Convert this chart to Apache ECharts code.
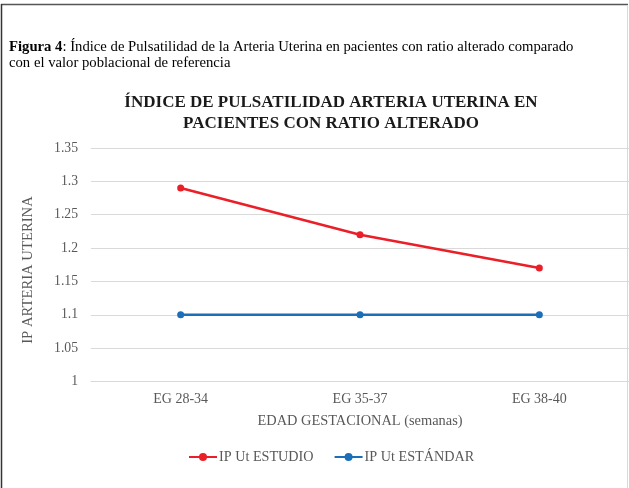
<!DOCTYPE html>
<html>
<head>
<meta charset="utf-8">
<script src="https://cdn.jsdelivr.net/npm/echarts@6/dist/echarts.min.js"></script>
<style>
html,body{margin:0;padding:0;background:#fff;}
#c{width:629px;height:488px;}
</style>
</head>
<body>
<div id="c"></div>
<script>
const categories = ['EG 28-34', 'EG 35-37', 'EG 38-40'];
const estudio = [1.29, 1.22, 1.17];
const estandar = [1.1, 1.1, 1.1];
const seriesNames = ['IP Ut ESTUDIO', 'IP Ut ESTÁNDAR'];
const yMin = 1, yMax = 1.35, yStep = 0.05;

const FONT = '"Liberation Serif", "Times New Roman", serif';
const GREY = '#595959';
const chart = echarts.init(document.getElementById('c'), null, {renderer: 'canvas'});
chart.setOption({
  backgroundColor: '#fff',
  animation: false,
  textStyle: {fontFamily: FONT},
  graphic: [
    {type: 'line', shape: {x1: 1, y1: 4.5, x2: 628, y2: 4.5}, style: {stroke: '#555', lineWidth: 1.5}},
    {type: 'line', shape: {x1: 1.5, y1: 4, x2: 1.5, y2: 488}, style: {stroke: '#333', lineWidth: 1.5}},
    {type: 'line', shape: {x1: 627.5, y1: 5, x2: 627.5, y2: 488}, style: {stroke: '#d9d9d9', lineWidth: 1}},
    {type: 'text', x: 9, y: 47.5, style: {
      text: '{b|Figura 4}: Índice de Pulsatilidad de la Arteria Uterina en pacientes con ratio alterado comparado',
      font: '14.7px ' + FONT, fill: '#000', verticalAlign: 'middle',
      rich: {b: {fontWeight: 'bold', fontSize: 14.7, fontFamily: FONT, fill: '#000'}}
    }},
    {type: 'text', x: 9, y: 63, style: {
      text: 'con el valor poblacional de referencia',
      font: '14.7px ' + FONT, fill: '#000', verticalAlign: 'middle'
    }},
    {type: 'text', x: 331, y: 103, style: {
      text: 'ÍNDICE DE PULSATILIDAD ARTERIA UTERINA EN',
      font: 'bold 17px ' + FONT, fill: '#1a1a1a', align: 'center', verticalAlign: 'middle'
    }},
    {type: 'text', x: 331, y: 123.5, style: {
      text: 'PACIENTES CON RATIO ALTERADO',
      font: 'bold 17px ' + FONT, fill: '#1a1a1a', align: 'center', verticalAlign: 'middle'
    }},
    {type: 'text', x: 28, y: 270, rotation: Math.PI / 2, style: {
      text: 'IP ARTERIA UTERINA',
      font: '14.7px ' + FONT, fill: GREY, align: 'center', verticalAlign: 'middle'
    }}
  ],
  grid: {left: 91, top: 148, width: 540, height: 233.5, containLabel: false},
  legend: {
    data: seriesNames,
    bottom: 19,
    left: 183,
    itemWidth: 28,
    itemHeight: 10,
    itemGap: 20,
    textStyle: {fontFamily: FONT, fontSize: 14.2, color: GREY, padding: [0, 0, 0, -3]}
  },
  xAxis: {
    type: 'category',
    data: categories,
    boundaryGap: true,
    name: 'EDAD GESTACIONAL (semanas)',
    nameLocation: 'middle',
    nameGap: 33,
    nameTextStyle: {fontFamily: FONT, fontSize: 14.4, color: GREY},
    axisLine: {lineStyle: {color: '#d9d9d9', width: 1}},
    axisTick: {show: false},
    axisLabel: {fontFamily: FONT, fontSize: 14, color: GREY, margin: 11}
  },
  yAxis: {
    type: 'value',
    min: yMin, max: yMax, interval: yStep,
    axisLine: {show: false},
    axisTick: {show: false},
    splitLine: {lineStyle: {color: '#d9d9d9', width: 1}},
    axisLabel: {fontFamily: FONT, fontSize: 13.7, color: GREY, margin: 13}
  },
  series: [
    {
      name: seriesNames[0], type: 'line', data: estudio,
      symbol: 'circle', symbolSize: 7,
      lineStyle: {color: '#EA1F27', width: 2.5},
      itemStyle: {color: '#EA1F27'}
    },
    {
      name: seriesNames[1], type: 'line', data: estandar,
      symbol: 'circle', symbolSize: 7,
      lineStyle: {color: '#1B6FB8', width: 2.5},
      itemStyle: {color: '#1B6FB8'}
    }
  ]
});
</script>
</body>
</html>
